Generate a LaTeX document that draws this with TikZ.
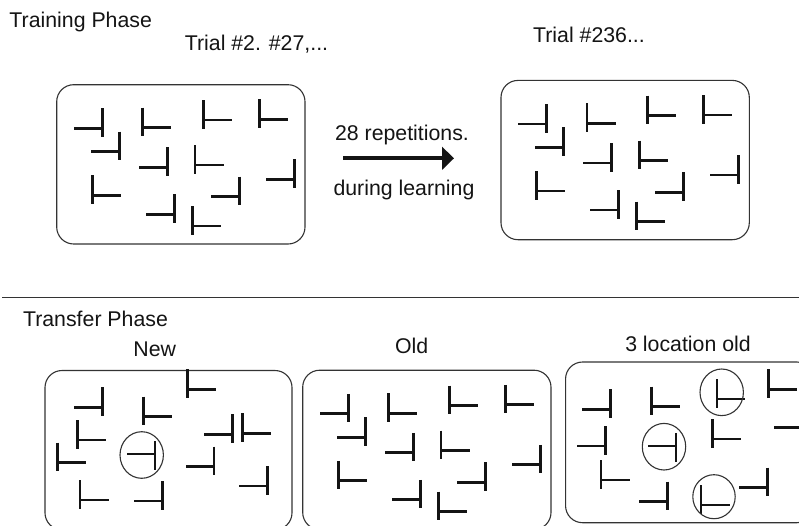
\documentclass[tikz,border=0pt]{standalone}
\usepackage{fontspec}
\setmainfont{Liberation Sans}
\usetikzlibrary{arrows.meta}

\definecolor{ink}{HTML}{141414}
\definecolor{frame}{HTML}{333333}

\tikzset{
  panel/.style={draw=frame, line width=1.1pt, rounded corners=17pt,
    minimum width=248.3pt, minimum height=159.3pt, inner sep=0pt},
  caption/.style={text=ink, font=\fontsize{21.3}{25}\selectfont, anchor=base, inner sep=0pt},
  ring/.style={draw=frame, line width=1.1pt},
  tstroke/.style={draw=ink, line width=2.8pt},
  tthin/.style={draw=ink, line width=1.9pt},
  % rotated T items: a bar with a stem pointing left or right
  tleft/.pic={\draw[tstroke] (0,-20) -- (0,8.5) (0,0) -- (-28.5,0);},
  tright/.pic={\draw[tstroke] (0,-20) -- (0,8.5) (0,0) -- (28.5,0);},
  trightthin/.pic={\draw[tthin] (0,-20) -- (0,8.5) (0,0) -- (28.5,0);},
  tleftmid/.pic={\draw[tthin] (0,-13) -- (0,16) (0,0) -- (-27.7,0);}
}

% one search display of the learning phase (box plus its twelve items)
\newcommand\learnset[1]{%
  \node[panel] (#1) at (180.85,164.35) {};
  \pic at (102.3,128.3) {tleft};
  \pic at (142.7,127.7) {tright};
  \pic at (203.3,120) {tright};
  \pic at (259.3,119.3) {tright};
  \pic at (119.3,151.7) {tleft};
  \pic at (167.3,167.3) {tleft};
  \pic at (195,165) {tright};
  \pic at (294.3,179.3) {tleft};
  \pic at (92.3,195.3) {tright};
  \pic at (239.3,196.7) {tleft};
  \pic at (174.3,214.3) {tleft};
  \pic at (192.3,226) {tright};
}

\begin{document}
\begin{tikzpicture}[x=1pt, y=-1pt]
\clip (0,0) rectangle (799,525);
\fill[white] (0,0) rectangle (799,525);

% ---------- training phase ----------
\node[caption] (trainhead) at (80.7,27.3) {Training Phase};
\node[caption] (trialA) at (256.5,50) {Trial \#2. \#27,...};
\node[caption] (trialB) at (589,42) {Trial \#236...};

\learnset{boxA}
\begin{scope}[shift={(444.3,-4.3)}]
  \learnset{boxB}
\end{scope}

\node[caption] (reps) at (402,140.7) {28 repetitions.};
\node[caption] (during) at (404,195) {during learning};
\coordinate (arrS) at (343.3,158.3);
\coordinate (arrE) at (454,158.3);
\draw[ink, line width=4.2pt, -{Triangle[length=12pt,width=22.6pt]}] (arrS) -- (arrE);

% separator
\coordinate (sepL) at (2,297.7);
\coordinate (sepR) at (799,297.7);
\draw[frame, line width=1.3pt] (sepL) -- (sepR);

% ---------- transfer phase ----------
\node[caption] (transhead) at (95.5,326.7) {Transfer Phase};
\node[caption] (newlbl) at (154.7,356.7) {New};
\node[caption] (oldlbl) at (411.7,353.3) {Old};
\node[caption] (loclbl) at (688,351.7) {3 location old};

% New display
\node[panel, minimum width=247pt] (boxNew) at (168.5,450.15) {};
\pic at (187.3,389.3) {tright};
\pic at (102.7,407.3) {tleft};
\pic at (143.3,416.7) {tright};
\pic at (77.3,440) {tright};
\pic at (232.7,434.3) {tleft};
\pic at (242.3,433.3) {tright};
\pic at (57.3,462.7) {tright};
\pic at (155,454) {tleftmid};
\draw[ring] (141.7,455) ellipse [x radius=21.7, y radius=23.3];
\pic at (214,466.7) {tleft};
\pic at (267.7,486) {tleft};
\pic at (80,500) {tright};
\pic at (162.7,501) {tleft};

% Old display
\begin{scope}[shift={(246,285.5)}]
  \learnset{boxOld}
\end{scope}

% 3 location old display
\node[panel, minimum height=160.7pt] (boxLoc) at (689.7,442.35) {};
\pic at (610.7,409.3) {tleft};
\pic at (651.7,406.7) {tright};
\pic at (716.7,399) {trightthin};
\draw[ring] (721.7,392.3) ellipse [x radius=21.7, y radius=23.3];
\pic at (768.3,389.3) {tright};
\pic at (605.7,446) {tleft};
\pic at (676,446) {tleftmid};
\draw[ring] (664,446.7) ellipse [x radius=21.7, y radius=23.3];
\pic at (712.3,439) {tright};
\pic at (802.8,427.3) {tleft};
\pic at (601,480) {tright};
\pic at (667.3,501.7) {tleft};
\pic at (701,505) {trightthin};
\draw[ring] (714,496.7) ellipse [x radius=21.2, y radius=22];
\pic at (767.3,487.7) {tleft};
\end{tikzpicture}
\end{document}
